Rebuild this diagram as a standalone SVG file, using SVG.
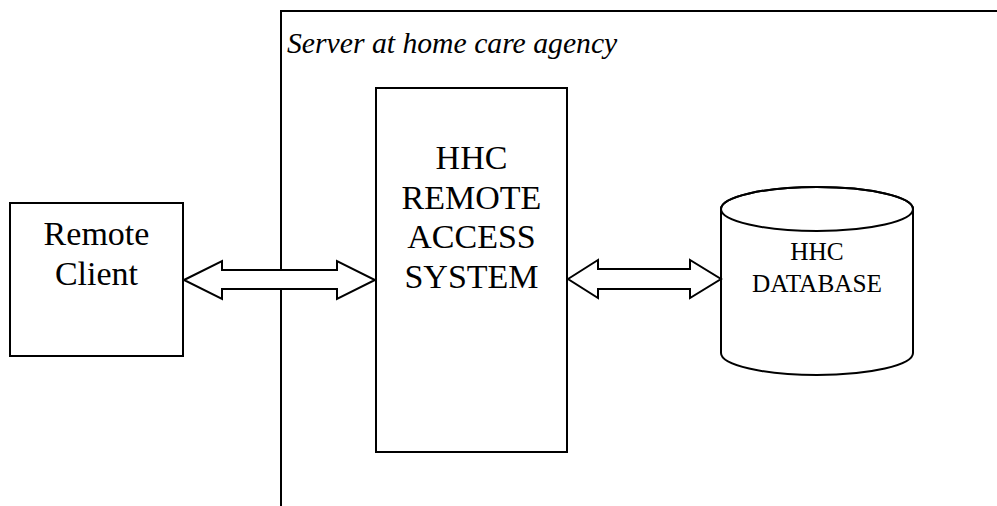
<svg xmlns="http://www.w3.org/2000/svg" width="997" height="506" viewBox="0 0 997 506">
  <style>
    .line { fill: none; stroke: #000; stroke-width: 2; }
    .box { fill: #fff; stroke: #000; stroke-width: 2; }
    .arrow { fill: #fff; stroke: #000; stroke-width: 2; stroke-linejoin: miter; }
    .label { font-family: "Liberation Serif", "Times New Roman", serif; fill: #000; text-anchor: middle; }
    .big { font-size: 34px; }
    .small { font-size: 25.3px; }
    .title { font-family: "Liberation Serif", "Times New Roman", serif; font-style: italic; font-size: 29.7px; fill: #000; }
  </style>
  <rect width="997" height="506" fill="#fff"/>

  <!-- server boundary -->
  <g id="server-frame">
    <path class="line" d="M281,506 V11 H997"/>
    <text class="title" x="287" y="53">Server at home care agency</text>
  </g>

  <g id="remote-client">
    <rect class="box" x="10" y="203" width="173" height="153"/>
    <text class="label big" x="96.5" y="245">Remote</text>
    <text class="label big" x="96.5" y="285">Client</text>
  </g>

  <g id="remote-access-system">
    <rect class="box" x="376" y="88" width="191" height="364"/>
    <text class="label big" x="471.5" y="169">HHC</text>
    <text class="label big" x="471.5" y="209">REMOTE</text>
    <text class="label big" x="471.5" y="248">ACCESS</text>
    <text class="label big" x="471.5" y="288">SYSTEM</text>
  </g>

  <g id="database">
    <path class="box" d="M721,209 V353 A96,22 0 0 0 913,353 V209 A96,22 0 0 0 721,209 Z"/>
    <ellipse class="line" cx="817" cy="209" rx="96" ry="22"/>
    <text class="label small" x="817" y="260">HHC</text>
    <text class="label small" x="817" y="292">DATABASE</text>
  </g>

  <!-- two-way block arrows -->
  <g id="connectors">
    <polygon class="arrow" points="184,280 222,261 222,270 337,270 337,261 375,280 337,299 337,289 222,289 222,299"/>
    <polygon class="arrow" points="568,279 598,260 598,269 690,269 690,260 721,279 690,298 690,289 598,289 598,298"/>
  </g>
</svg>
